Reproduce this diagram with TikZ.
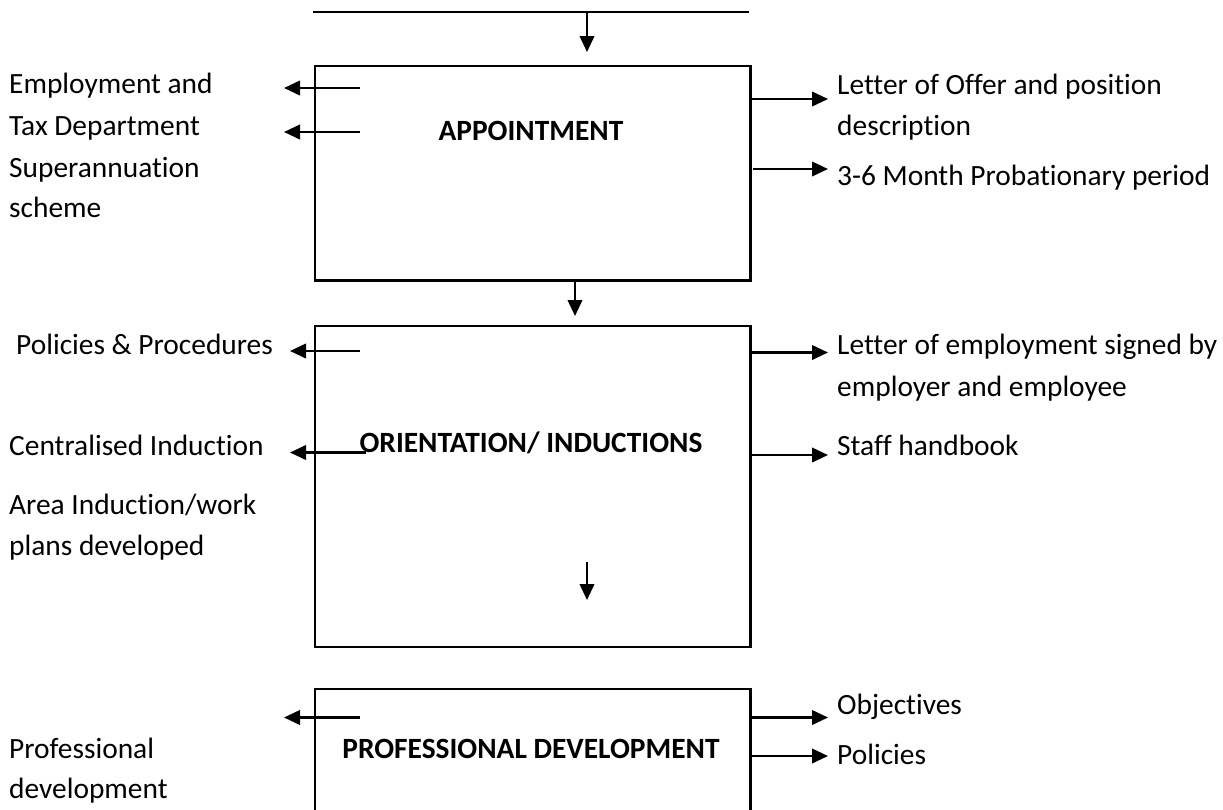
\documentclass[tikz,border=0pt]{standalone}
\usepackage{fontspec}
\setmainfont{Carlito}[Ligatures=NoCommon]
\usetikzlibrary{arrows.meta}
\begin{document}
\begin{tikzpicture}[x=1pt,y=-1pt,
  txt/.style={font=\fontsize{29.4}{34}\selectfont, inner sep=0pt, anchor=base west},
  ttl/.style={font=\fontsize{29.4}{34}\selectfont\bfseries, inner sep=0pt, anchor=base},
  boxn/.style={draw, line width=2.4pt, minimum width=435.7pt, anchor=north west, inner sep=0pt},
  arr/.style={line width=2.3pt, -{Triangle[length=16pt,width=14.5pt]}}]
\useasboundingbox (0,0) rectangle (1223,809);
\clip (0,0) rectangle (1223,809);
% boxes
\node[boxn, minimum height=214.3pt] (box1) at (313.6,65) {};
\node[boxn, minimum height=321pt] (box2) at (313.6,325) {};
\node[boxn, minimum height=140pt] (box3) at (313.6,688) {};
% titles
\node[ttl] (t1) at (531,140) {APPOINTMENT};
\node[ttl] (t2) at (531,452) {ORIENTATION/ INDUCTIONS};
\node[ttl] (t3) at (531,758) {PROFESSIONAL DEVELOPMENT};
% top line
\coordinate (topL) at (313,12);
\coordinate (topR) at (749,12);
\draw[line width=2.4pt] (topL) -- (topR);
\coordinate (in1s) at (587,13);
\coordinate (in1e) at (587,52);
\draw[arr] (in1s) -- (in1e);
\coordinate (m12s) at (575,279);
\coordinate (m12e) at (575,316);
\draw[arr] (m12s) -- (m12e);
\coordinate (in2s) at (587,562);
\coordinate (in2e) at (587,600);
\draw[arr] (in2s) -- (in2e);
% box1 side arrows
\coordinate (b1la) at (360,88);  \coordinate (b1lae) at (284,88);
\coordinate (b1lb) at (360,132); \coordinate (b1lbe) at (284,132);
\coordinate (b1ra) at (752,99);  \coordinate (b1rae) at (828,99);
\coordinate (b1rb) at (753,169); \coordinate (b1rbe) at (828,169);
\draw[arr] (b1la) -- (b1lae);
\draw[arr] (b1lb) -- (b1lbe);
\draw[arr] (b1ra) -- (b1rae);
\draw[arr] (b1rb) -- (b1rbe);
% box2 side arrows
\coordinate (b2la) at (360,351);   \coordinate (b2lae) at (290,351);
\coordinate (b2lb) at (366,452.5); \coordinate (b2lbe) at (290,452.5);
\coordinate (b2ra) at (752,352.5); \coordinate (b2rae) at (828,352.5);
\coordinate (b2rb) at (752,455);   \coordinate (b2rbe) at (828,455);
\draw[arr] (b2la) -- (b2lae);
\draw[arr] (b2lb) -- (b2lbe);
\draw[arr] (b2ra) -- (b2rae);
\draw[arr] (b2rb) -- (b2rbe);
% box3 side arrows
\coordinate (b3la) at (360,717.5); \coordinate (b3lae) at (284,717.5);
\coordinate (b3ra) at (752,717.5); \coordinate (b3rae) at (828,717.5);
\coordinate (b3rb) at (752,756);   \coordinate (b3rbe) at (828,756);
\draw[arr] (b3la) -- (b3lae);
\draw[arr] (b3ra) -- (b3rae);
\draw[arr] (b3rb) -- (b3rbe);
% left texts
\node[txt] (l1a) at (9,93)  {Employment and};
\node[txt] (l1b) at (9,135) {Tax Department};
\node[txt] (l1c) at (9,177) {Superannuation};
\node[txt] (l1d) at (9,217) {scheme};
\node[txt] (l2a) at (16,354) {Policies \& Procedures};
\node[txt] (l2b) at (9,455) {Centralised Induction};
\node[txt] (l2c) at (9,514) {Area Induction/work};
\node[txt] (l2d) at (9,555) {plans developed};
\node[txt] (l3a) at (9,758) {Professional};
\node[txt] (l3b) at (9,798) {development};
% right texts
\node[txt] (r1a) at (837,94)  {Letter of Offer and position};
\node[txt] (r1b) at (837,135) {description};
\node[txt] (r1c) at (837,185) {3-6 Month Probationary period};
\node[txt] (r2a) at (837,354) {Letter of employment signed by};
\node[txt] (r2b) at (837,396) {employer and employee};
\node[txt] (r2c) at (837,455) {Staff handbook};
\node[txt] (r3a) at (837,714) {Objectives};
\node[txt] (r3b) at (837,764) {Policies};
\end{tikzpicture}
\end{document}
